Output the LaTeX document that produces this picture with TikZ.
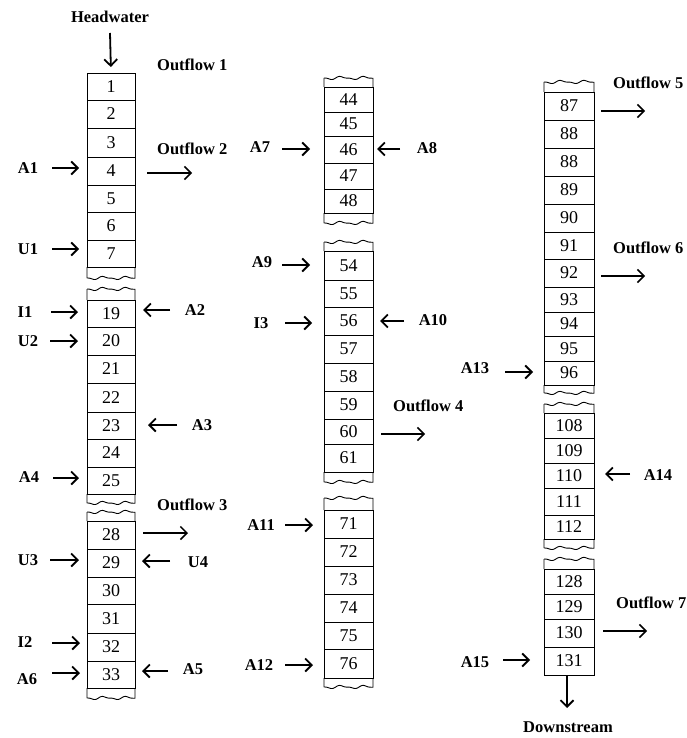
\documentclass[tikz,border=0pt]{standalone}
\usepackage{fontspec}
\setmainfont{Liberation Serif}
\usetikzlibrary{arrows.meta}
\tikzset{
  cellbox/.style={draw, line width=0.9pt, rectangle, inner sep=0pt, outer sep=0pt, font=\fontsize{18}{18}\selectfont},
  lbl/.style={inner sep=0pt, font=\fontsize{16.5}{16.5}\selectfont\bfseries},
  arr/.style={line width=1.8pt, -{Straight Barb[length=6.5pt,width=13pt,line width=1.8pt]}},
  oarr/.style={line width=1.5pt, -{Straight Barb[length=6.5pt,width=13pt,line width=1.5pt]}},
  edge/.style={line width=0.9pt}
}
% cell: name, xc, width, top, bottom, text
\newcommand\cel[6]{\node[cellbox, minimum width=#3, minimum height={#5-#4}] (#1) at (#2,{(#4+#5)/2}) {#6};}
% wavy edge: xl, xr, ywave, ycell
\newcommand\wavyend[4]{\draw[edge] (#1,#4) -- (#1,#3) plot[domain=0:1,samples=50,smooth] ({#1+\x*(#2-#1)},{#3+1.2*sin(\x*760)-0.6*sin(\x*1500)}) -- (#2,#4);}
\begin{document}
\begin{tikzpicture}[x=1pt,y=-1pt]
\useasboundingbox (0,0) rectangle (687,738);

% ---------- left column ----------
\def\cw{48}
\cel{c1}{111}{\cw}{73}{100}{1}
\cel{c2}{111}{\cw}{100}{128}{2}
\cel{c3}{111}{\cw}{128}{157}{3}
\cel{c4}{111}{\cw}{157}{185}{4}
\cel{c5}{111}{\cw}{185}{212}{5}
\cel{c6}{111}{\cw}{212}{240}{6}
\cel{c7}{111}{\cw}{240}{267}{7}
\wavyend{87}{135}{278}{267}
\wavyend{87}{135}{289}{300}
\cel{c19}{111}{\cw}{300}{327}{19}
\cel{c20}{111}{\cw}{327}{355}{20}
\cel{c21}{111}{\cw}{355}{383}{21}
\cel{c22}{111}{\cw}{383}{412}{22}
\cel{c23}{111}{\cw}{412}{439}{23}
\cel{c24}{111}{\cw}{439}{467}{24}
\cel{c25}{111}{\cw}{467}{494}{25}
\wavyend{87}{135}{503}{494}
\wavyend{87}{135}{512}{521}
\cel{c28}{111}{\cw}{521}{549}{28}
\cel{c29}{111}{\cw}{549}{577}{29}
\cel{c30}{111}{\cw}{577}{604}{30}
\cel{c31}{111}{\cw}{604}{633}{31}
\cel{c32}{111}{\cw}{633}{661}{32}
\cel{c33}{111}{\cw}{661}{688}{33}
\wavyend{87}{135}{698}{688}

% ---------- middle column ----------
\def\mw{49}
\wavyend{324}{373}{78}{87}
\cel{c44}{348.5}{\mw}{87}{112}{44}
\cel{c45}{348.5}{\mw}{112}{136}{45}
\cel{c46}{348.5}{\mw}{136}{163}{46}
\cel{c47}{348.5}{\mw}{163}{189}{47}
\cel{c48}{348.5}{\mw}{189}{213}{48}
\wavyend{324}{373}{223}{213}
\wavyend{324}{373}{242}{251}
\cel{c54}{348.5}{\mw}{251}{280}{54}
\cel{c55}{348.5}{\mw}{280}{307}{55}
\cel{c56}{348.5}{\mw}{307}{335}{56}
\cel{c57}{348.5}{\mw}{335}{363}{57}
\cel{c58}{348.5}{\mw}{363}{391}{58}
\cel{c59}{348.5}{\mw}{391}{419}{59}
\cel{c60}{348.5}{\mw}{419}{444}{60}
\cel{c61}{348.5}{\mw}{444}{472}{61}
\wavyend{324}{373}{482}{472}
\wavyend{324}{373}{498}{510}
\cel{c71}{348.5}{\mw}{510}{538}{71}
\cel{c72}{348.5}{\mw}{538}{566}{72}
\cel{c73}{348.5}{\mw}{566}{594}{73}
\cel{c74}{348.5}{\mw}{594}{622}{74}
\cel{c75}{348.5}{\mw}{622}{649}{75}
\cel{c76}{348.5}{\mw}{649}{678}{76}
\wavyend{324}{373}{687}{678}

% ---------- right column ----------
\def\rw{50}
\wavyend{544}{594}{82}{92}
\cel{c87}{569}{\rw}{92}{120}{87}
\cel{c88}{569}{\rw}{120}{148}{88}
\cel{c88b}{569}{\rw}{148}{176}{88}
\cel{c89}{569}{\rw}{176}{204}{89}
\cel{c90}{569}{\rw}{204}{232}{90}
\cel{c91}{569}{\rw}{232}{259}{91}
\cel{c92}{569}{\rw}{259}{287}{92}
\cel{c93}{569}{\rw}{287}{312}{93}
\cel{c94}{569}{\rw}{312}{336}{94}
\cel{c95}{569}{\rw}{336}{361}{95}
\cel{c96}{569}{\rw}{361}{385}{96}
\wavyend{544}{594}{393}{385}
\wavyend{544}{594}{404}{413}
\cel{c108}{569}{\rw}{413}{438}{108}
\cel{c109}{569}{\rw}{438}{463}{109}
\cel{c110}{569}{\rw}{463}{488}{110}
\cel{c111}{569}{\rw}{488}{515}{111}
\cel{c112}{569}{\rw}{515}{539}{112}
\wavyend{544}{594}{548}{539}
\wavyend{544}{594}{559}{569}
\cel{c128}{569}{\rw}{569}{594}{128}
\cel{c129}{569}{\rw}{594}{619}{129}
\cel{c130}{569}{\rw}{619}{647}{130}
\cel{c131}{569}{\rw}{647}{675}{131}

% ---------- labels ----------
\node[lbl] (head) at (110,17) {Headwater};
\node[lbl] (down) at (568,727) {Downstream};
\node[lbl,anchor=west] (o1) at (157,65) {Outflow 1};
\node[lbl,anchor=west] (o2) at (157,149) {Outflow 2};
\node[lbl,anchor=west] (o3) at (157,505) {Outflow 3};
\node[lbl,anchor=west] (o4) at (393,406) {Outflow 4};
\node[lbl,anchor=west] (o5) at (613,83) {Outflow 5};
\node[lbl,anchor=west] (o6) at (613,248) {Outflow 6};
\node[lbl,anchor=west] (o7) at (616,603) {Outflow 7};
\node[lbl] (A1) at (28,168) {A1};
\node[lbl] (U1) at (28,249) {U1};
\node[lbl] (I1) at (25,312) {I1};
\node[lbl] (A2) at (195,310) {A2};
\node[lbl] (U2) at (28,341) {U2};
\node[lbl] (A3) at (202,425) {A3};
\node[lbl] (A4) at (29,477) {A4};
\node[lbl] (U3) at (28,560) {U3};
\node[lbl] (U4) at (198,562) {U4};
\node[lbl] (I2) at (25,642) {I2};
\node[lbl] (A6) at (27,679) {A6};
\node[lbl] (A5) at (193,669) {A5};
\node[lbl] (A7) at (260,147) {A7};
\node[lbl] (A8) at (427,148) {A8};
\node[lbl] (A9) at (262,262) {A9};
\node[lbl] (I3) at (261,323) {I3};
\node[lbl] (A10) at (433,320) {A10};
\node[lbl] (A11) at (261,525) {A11};
\node[lbl] (A12) at (259,665) {A12};
\node[lbl] (A13) at (475,368) {A13};
\node[lbl] (A14) at (658,475) {A14};
\node[lbl] (A15) at (475,662) {A15};

% ---------- arrow end points ----------
\coordinate (hs) at (110,33);
\coordinate (o2s) at (147,173); \coordinate (o2e) at (192,173);
\coordinate (o3s) at (143,533); \coordinate (o3e) at (188,533);
\coordinate (o4s) at (381,434); \coordinate (o4e) at (425,434);
\coordinate (o5s) at (601,111); \coordinate (o5e) at (645,111);
\coordinate (o6s) at (601,276); \coordinate (o6e) at (645,276);
\coordinate (o7s) at (603,631); \coordinate (o7e) at (647,631);
\coordinate (dse) at (567,708);

% ---------- arrows ----------
\draw[arr,shorten >=6pt] (hs) -- (c1.north);
\draw[oarr] (o2s) -- (o2e);
\draw[oarr] (o3s) -- (o3e);
\draw[oarr] (o4s) -- (o4e);
\draw[oarr] (o5s) -- (o5e);
\draw[oarr] (o6s) -- (o6e);
\draw[oarr] (o7s) -- (o7e);
\draw[arr] (c131.south -| dse) -- (dse);

\draw[arr,shorten >=8pt] (52,168) coordinate (a1s) -- (a1s -| c4.west);
\draw[arr,shorten >=8pt] (52,249) coordinate (u1s) -- (u1s -| c7.west);
\draw[arr,shorten >=9pt] (51,312) coordinate (i1s) -- (i1s -| c19.west);
\draw[arr,shorten >=8pt] (170,310) coordinate (a2s) -- (a2s -| c19.east);
\draw[arr,shorten >=9pt] (50,341) coordinate (u2s) -- (u2s -| c20.west);
\draw[arr,shorten >=13pt] (177,425) coordinate (a3s) -- (a3s -| c23.east);
\draw[arr,shorten >=8pt] (53,478) coordinate (a4s) -- (a4s -| c25.west);
\draw[arr,shorten >=8pt] (50,560) coordinate (u3s) -- (u3s -| c29.west);
\draw[arr,shorten >=7pt] (170,561) coordinate (u4s) -- (u4s -| c29.east);
\draw[arr,shorten >=7pt] (52,643) coordinate (i2s) -- (i2s -| c32.west);
\draw[arr,shorten >=7pt] (52,673) coordinate (a6s) -- (a6s -| c33.west);
\draw[arr,shorten >=7pt] (168,671) coordinate (a5s) -- (a5s -| c33.east);
\draw[arr,shorten >=14pt] (282,149) coordinate (a7s) -- (a7s -| c46.west);
\draw[arr,shorten >=4pt] (400,149) coordinate (a8s) -- (a8s -| c46.east);
\draw[arr,shorten >=14pt] (282,265) coordinate (a9s) -- (a9s -| c54.west);
\draw[arr,shorten >=12pt] (285,323) coordinate (i3s) -- (i3s -| c56.west);
\draw[arr,shorten >=7pt] (404,321) coordinate (a10s) -- (a10s -| c56.east);
\draw[arr,shorten >=11pt] (285,525) coordinate (a11s) -- (a11s -| c71.west);
\draw[arr,shorten >=11pt] (285,665) coordinate (a12s) -- (a12s -| c76.west);
\draw[arr,shorten >=11pt] (505,372) coordinate (a13s) -- (a13s -| c96.west);
\draw[arr,shorten >=11pt] (630,474) coordinate (a14s) -- (a14s -| c110.east);
\draw[arr,shorten >=14pt] (503,660) coordinate (a15s) -- (a15s -| c131.west);
\end{tikzpicture}
\end{document}
